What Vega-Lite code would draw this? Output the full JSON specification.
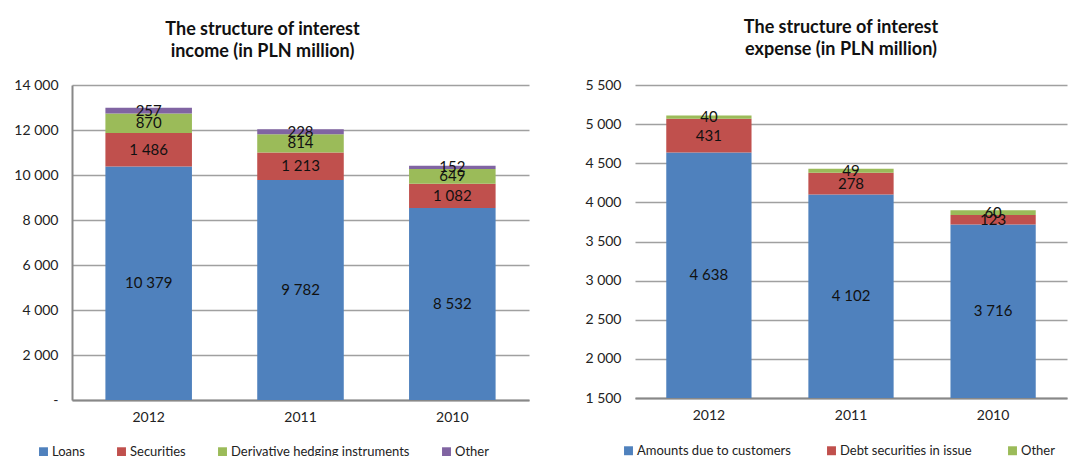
{
  "$schema": "https://vega.github.io/schema/vega-lite/v6.json",
  "padding": {"left": 13, "top": 19, "right": 5, "bottom": 0},
  "spacing": 55,
  "config": {
    "locale": {"number": {"decimal": ",", "thousands": " ", "grouping": [3], "currency": ["", ""]}},
    "font": "Lato",
    "view": {"stroke": null},
    "axis": {"labelFont": "Lato", "labelFontSize": 14, "labelColor": "#222", "gridColor": "#a0a0a0", "gridWidth": 1.5, "domainColor": "#888888", "domainWidth": 2, "ticks": false, "labelOverlap": false},
    "legend": {"labelFont": "Lato", "labelFontSize": 13, "labelColor": "#222", "labelLimit": 400, "symbolType": "square", "symbolSize": 80, "symbolStrokeWidth": 0, "labelOffset": 2, "direction": "horizontal", "title": null},
    "title": {"font": "Lato", "fontSize": 18, "fontWeight": "bold", "color": "#111", "lineHeight": 22, "offset": 17}
  },
  "resolve": {"scale": {"color": "independent"}},
  "hconcat": [
    {
      "width": 457,
      "height": 315,
      "title": {"text": ["The structure of interest", "income (in PLN million)"], "dx": -38},
      "data": {"values": [
        {"year": "2012", "type": "Loans", "value": 10379},
        {"year": "2012", "type": "Securities", "value": 1486},
        {"year": "2012", "type": "Derivative hedging instruments", "value": 870},
        {"year": "2012", "type": "Other", "value": 257},
        {"year": "2011", "type": "Loans", "value": 9782},
        {"year": "2011", "type": "Securities", "value": 1213},
        {"year": "2011", "type": "Derivative hedging instruments", "value": 814},
        {"year": "2011", "type": "Other", "value": 228},
        {"year": "2010", "type": "Loans", "value": 8532},
        {"year": "2010", "type": "Securities", "value": 1082},
        {"year": "2010", "type": "Derivative hedging instruments", "value": 649},
        {"year": "2010", "type": "Other", "value": 152}
      ]},
      "transform": [
        {"calculate": "indexof(['Loans','Securities','Derivative hedging instruments','Other'], datum.type)", "as": "ord"},
        {"stack": "value", "groupby": ["year"], "sort": [{"field": "ord", "order": "ascending"}], "as": ["y0", "y1"]},
        {"calculate": "(datum.y0 + datum.y1) / 2", "as": "mid"}
      ],
      "encoding": {
        "x": {"field": "year", "type": "nominal", "sort": ["2012", "2011", "2010"], "scale": {"paddingInner": 0.43, "paddingOuter": 0.22}, "axis": {"title": null, "labelAngle": 0, "labelPadding": 10, "domain": true}}
      },
      "layer": [
        {
          "mark": {"type": "bar"},
          "encoding": {
            "y": {"field": "y0", "type": "quantitative", "scale": {"domain": [0, 14000]}, "axis": {"title": null, "values": [0, 2000, 4000, 6000, 8000, 10000, 12000, 14000], "labelExpr": "datum.value == 0 ? '-' : format(datum.value, ',')", "grid": true, "domain": true, "labelPadding": 14}},
            "y2": {"field": "y1"},
            "color": {"field": "type", "type": "nominal", "sort": ["Loans", "Securities", "Derivative hedging instruments", "Other"], "scale": {"domain": ["Loans", "Securities", "Derivative hedging instruments", "Other"], "range": ["#4f81bd", "#c0504d", "#9bbb59", "#8064a2"]}, "legend": {"orient": "none", "legendX": -35, "legendY": 360, "columnPadding": 30}}
          }
        },
        {
          "mark": {"type": "text", "fontSize": 15, "color": "#111", "font": "Lato"},
          "encoding": {
            "y": {"field": "mid", "type": "quantitative", "axis": {"title": null, "values": [0, 2000, 4000, 6000, 8000, 10000, 12000, 14000], "labelExpr": "datum.value == 0 ? '-' : format(datum.value, ',')", "grid": true, "domain": true, "labelPadding": 14}},
            "text": {"field": "value", "type": "quantitative", "format": ","}
          }
        }
      ]
    },
    {
      "width": 432,
      "height": 313,
      "title": {"text": ["The structure of interest", "expense (in PLN million)"], "dx": -10, "offset": 19},
      "data": {"values": [
        {"year": "2012", "type": "Amounts due to customers", "value": 4638},
        {"year": "2012", "type": "Debt securities in issue", "value": 431},
        {"year": "2012", "type": "Other", "value": 40},
        {"year": "2011", "type": "Amounts due to customers", "value": 4102},
        {"year": "2011", "type": "Debt securities in issue", "value": 278},
        {"year": "2011", "type": "Other", "value": 49},
        {"year": "2010", "type": "Amounts due to customers", "value": 3716},
        {"year": "2010", "type": "Debt securities in issue", "value": 123},
        {"year": "2010", "type": "Other", "value": 60}
      ]},
      "transform": [
        {"calculate": "indexof(['Amounts due to customers','Debt securities in issue','Other'], datum.type)", "as": "ord"},
        {"stack": "value", "groupby": ["year"], "sort": [{"field": "ord", "order": "ascending"}], "as": ["y0", "y1"]},
        {"calculate": "(max(datum.y0, 1500) + datum.y1) / 2", "as": "mid"}
      ],
      "encoding": {
        "x": {"field": "year", "type": "nominal", "sort": ["2012", "2011", "2010"], "scale": {"paddingInner": 0.4, "paddingOuter": 0.22}, "axis": {"title": null, "labelAngle": 0, "labelPadding": 10, "domain": true}}
      },
      "layer": [
        {
          "mark": {"type": "bar", "clip": true},
          "encoding": {
            "y": {"field": "y0", "type": "quantitative", "scale": {"domain": [1500, 5500], "zero": false}, "axis": {"title": null, "values": [1500, 2000, 2500, 3000, 3500, 4000, 4500, 5000, 5500], "labelExpr": "format(datum.value, ',')", "grid": true, "domain": false, "labelPadding": 14}},
            "y2": {"field": "y1"},
            "color": {"field": "type", "type": "nominal", "sort": ["Amounts due to customers", "Debt securities in issue", "Other"], "scale": {"domain": ["Amounts due to customers", "Debt securities in issue", "Other"], "range": ["#4f81bd", "#c0504d", "#9bbb59"]}, "legend": {"orient": "none", "legendX": -13, "legendY": 359, "columnPadding": 34}}
          }
        },
        {
          "mark": {"type": "text", "fontSize": 15, "color": "#111", "font": "Lato"},
          "encoding": {
            "y": {"field": "mid", "type": "quantitative", "axis": {"title": null, "values": [1500, 2000, 2500, 3000, 3500, 4000, 4500, 5000, 5500], "labelExpr": "format(datum.value, ',')", "grid": true, "domain": false, "labelPadding": 14}},
            "text": {"field": "value", "type": "quantitative", "format": ","}
          }
        }
      ]
    }
  ]
}
